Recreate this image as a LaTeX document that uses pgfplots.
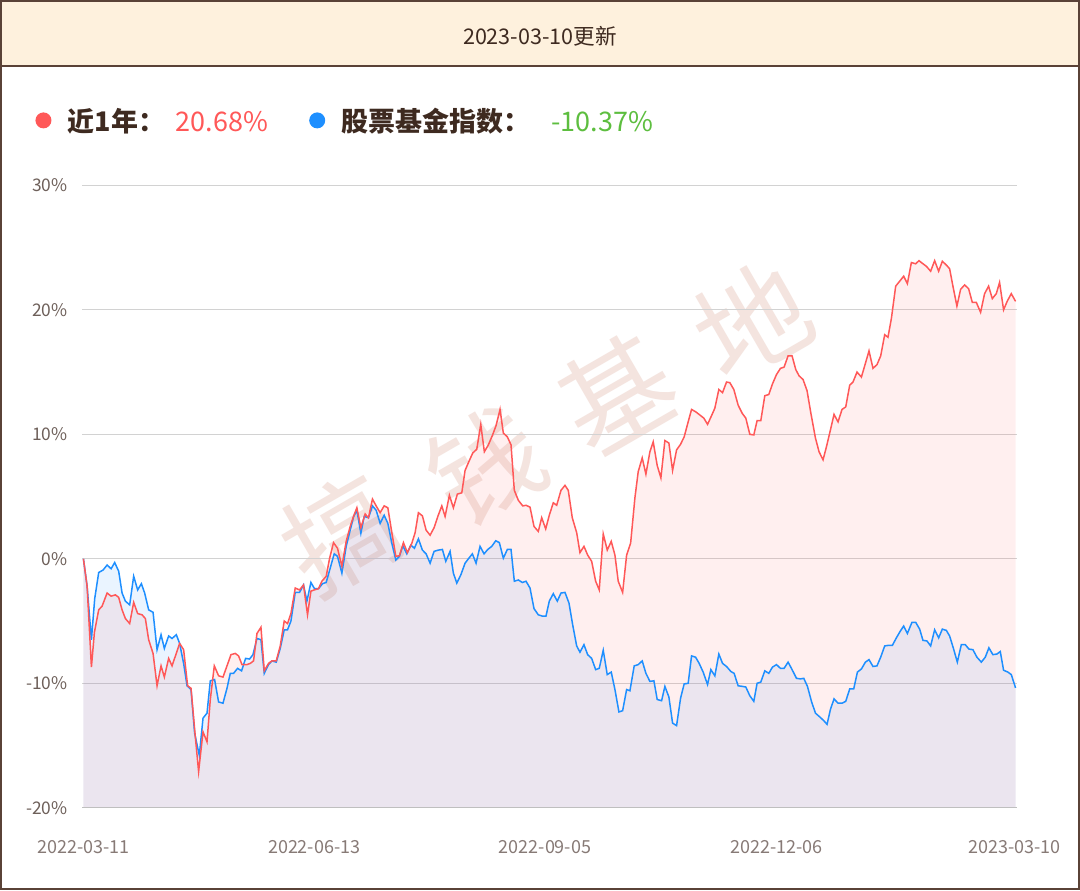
\documentclass[border=0pt]{standalone}
\usepackage{fontspec}
\setmainfont{Noto Sans CJK SC}
\usepackage{pgfplots}
\usepackage{pgfplotstable}
\pgfplotsset{compat=1.18}
\definecolor{frame}{RGB}{90,66,55}
\definecolor{cream}{RGB}{254,241,221}
\definecolor{txt}{RGB}{62,42,32}
\definecolor{tick}{RGB}{110,96,90}
\definecolor{xtick}{RGB}{135,122,118}
\definecolor{rline}{RGB}{255,88,88}
\definecolor{bline}{RGB}{30,143,255}
\definecolor{gtxt}{RGB}{93,190,63}
\definecolor{gridc}{RGB}{210,210,210}
\definecolor{wm}{RGB}{244,228,223}

\pgfplotstableread{
x y
83 0
86.7 -2.2
91 -8.7
94 -5.9
98.3 -4.1
101.7 -3.8
106.7 -2.75
110.7 -3.0
115 -2.9
118.3 -3.1
121.7 -4.1
125 -4.8
129.3 -5.2
133.3 -3.5
137.3 -4.4
141.7 -4.5
145 -4.8
148.3 -6.5
152.7 -7.6
156.7 -10.2
160.7 -8.6
164 -9.5
168.3 -8.0
171.7 -8.6
175.5 -7.7
179.3 -6.8
183.3 -7.3
187.3 -10.2
190.7 -10.4
195 -14.3
198.3 -17.1
202.7 -13.9
206.7 -14.7
210 -11.3
214 -8.6
218.3 -9.4
222.7 -9.5
226.7 -8.6
230.7 -7.7
235 -7.6
238.3 -7.8
241.7 -8.5
246.7 -8.5
250 -8.4
253.3 -8.2
256.7 -6.0
260.7 -5.5
264 -9.0
268.3 -8.4
271.7 -8.2
276 -8.2
280 -7.0
284 -5.0
287.3 -5.2
290.7 -4.4
295 -2.35
299.3 -2.5
303.3 -2.1
307.3 -4.5
310.7 -2.6
314 -2.5
318.3 -2.4
321.7 -1.8
326 -1.4
329.3 0.0
333.3 1.3
337.3 0.85
341.7 -0.6
346 1.4
350 2.6
353.3 3.4
356.7 4.1
360.7 2.5
365 3.6
368.3 3.3
372.3 4.8
376 4.25
380 3.7
384 4.25
387.7 4.1
391.7 2.1
395.7 0.2
399.3 0.25
403.3 1.3
407.3 0.5
411.7 1.25
415 2.1
418.3 3.7
422.3 3.45
426 2.3
430 1.9
434 2.5
437.7 3.4
441.7 4.25
445 3.4
449.3 5.1
453.3 4.1
457.3 5.2
461.7 5.3
465 7.1
469.3 7.9
472.7 8.5
476.7 8.8
480.7 10.8
484.3 8.6
488.3 9.15
492.3 9.9
496 10.7
500 12.0
503.3 10.1
507.3 9.8
511 9.15
514.3 5.5
518.3 4.7
522.7 4.25
526 4.3
530 4.15
534 2.6
538.3 2.2
541.7 3.3
545.7 2.4
549.3 3.5
553.3 4.5
556.7 4.3
561 5.5
565 5.9
568.3 5.5
572.3 3.3
576.7 2.1
580 0.5
584 1.0
587.7 0.3
591.7 -0.2
595.7 -1.8
599.3 -2.5
603.3 2.0
607.3 0.7
611.3 1.4
615 0.3
618.3 -1.8
622.7 -2.7
626.7 0.3
630.7 1.25
635 4.9
638.3 7.0
642.3 8.1
646 6.8
650 8.6
653.3 9.4
657.3 7.5
661 6.5
665 9.5
669 9.3
672.7 7.1
676.7 8.75
680.7 9.2
684.3 9.8
688.3 11.0
691.7 12.0
696 11.8
700 11.55
704 11.3
707.7 10.8
711.7 11.5
715 12.1
719 13.6
722.7 13.35
726.7 14.2
730 14.15
734 13.6
738.3 12.35
742.3 11.7
746 11.3
750 10.0
754 9.95
757.3 11.1
761 11.1
765 13.1
769 13.2
772.7 14.05
776.7 14.8
780.7 15.3
784.3 15.4
788.3 16.3
792.3 16.3
796 15.2
799.3 14.7
803.3 14.4
807.3 13.5
811 11.75
815.7 9.7
819.3 8.6
823.3 7.95
826.7 9.0
830.7 10.35
834.3 11.6
838.3 11.0
842.3 12.0
846 12.2
850 13.95
853.3 14.2
857.3 15.0
861.7 14.6
865.7 15.7
869.3 16.7
873.3 15.3
877.3 15.6
881 16.3
885 18.0
888.3 17.8
891.7 19.3
896 21.9
900 22.3
904 22.7
907.7 22.1
911.7 23.8
916 23.7
919.3 23.95
923.3 23.7
926.7 23.5
931 23.1
935 23.95
939 23.1
942.7 23.9
946.7 23.6
950 23.3
953.3 21.9
957.3 20.3
961 21.65
965 22.0
969 21.7
972.7 20.6
976.7 20.6
981 19.8
985 21.3
989 21.9
992.7 20.9
996.7 21.3
1000 22.2
1004 20.0
1007.7 20.7
1011.7 21.3
1016 20.68
}\redtab

\pgfplotstableread{
x y
83 0
86.7 -2.2
91 -6.5
94.3 -3.2
98.3 -1.1
102.7 -0.9
106.7 -0.5
110.7 -0.8
114.3 -0.3
118.3 -1.0
121.7 -2.75
125 -3.4
129.3 -3.7
133.3 -1.4
137.3 -2.5
141 -2.0
144.3 -2.75
148.3 -4.1
152.7 -4.3
156.7 -7.3
160.7 -6.1
164 -7.2
168.3 -6.2
171.7 -6.4
176 -6.1
179.3 -6.8
183.3 -8.4
186.7 -10.2
190.7 -10.5
194.3 -14.0
199 -15.8
202.7 -12.8
206.7 -12.4
210 -9.8
214.3 -9.7
218.3 -11.5
222.7 -11.6
226.7 -10.4
230 -9.2
233.3 -9.2
237.3 -8.8
241.3 -9.0
245.3 -8.0
249.3 -8.05
252.7 -7.7
256.7 -6.4
260.7 -6.5
264 -9.2
268.3 -8.5
271.7 -8.2
276 -8.3
280 -7.2
284 -5.7
287.3 -5.7
290.7 -5.0
295 -2.7
299.3 -2.7
303.3 -2.1
306.7 -3.4
310.7 -1.9
314.3 -2.4
318.3 -2.4
322.3 -2.0
326 -1.9
330 -0.75
334 0.4
337.3 0.2
341.7 -1.15
346 1.0
350 2.3
353.3 3.35
356.7 3.9
360.7 2.05
364 3.4
368.3 3.3
372.3 4.25
376 3.9
380 2.85
384 3.5
387.7 2.85
391.7 1.25
395.7 -0.1
399.3 0.2
402.7 1.05
406.7 0.4
410.7 1.1
414.3 0.85
418.3 1.6
422.3 0.7
426 0.4
430 -0.35
434 0.6
438.3 0.7
442.3 0.75
445.7 -0.2
450 0.6
453.3 -1.15
456.7 -1.95
460.7 -1.3
465 -0.35
468.3 0
472.3 0.4
476 -0.35
480 1.0
484 0.4
487.7 0.75
491.7 1.0
495.7 1.45
499.3 1.3
503.3 0.05
507.3 0.75
511 0.75
514.3 -1.8
518.3 -1.7
522.3 -1.9
526 -1.8
530 -2.35
534 -4.0
538.3 -4.5
542.3 -4.6
546 -4.6
549.3 -3.4
553.3 -2.8
557.3 -3.4
561 -2.75
565 -2.7
569 -3.55
572.7 -5.3
576.7 -7.0
580 -7.5
584 -6.9
587.7 -7.7
591.7 -8.0
595.7 -8.9
599.3 -8.8
603.3 -7.35
607.3 -9.3
611.3 -9.1
615 -10.5
619 -12.3
622.7 -12.2
626.7 -10.5
630 -10.6
634.3 -8.6
638.3 -8.5
642.3 -8.2
646 -9.2
650 -9.85
654 -9.8
657.3 -11.3
661.7 -11.4
665 -10.25
669 -11.1
672.7 -13.2
676.7 -13.4
680.7 -11.2
684.3 -10.05
688.3 -10.0
691.7 -7.8
695.7 -7.9
699.3 -8.4
703.3 -9.1
707.7 -10.1
711 -8.9
715 -9.4
719 -7.65
722.7 -8.4
726.7 -8.65
731 -9.05
734.3 -9.2
738.3 -10.2
742.7 -10.25
746 -10.3
750 -11.0
754 -11.45
757.3 -10.0
761 -9.9
765 -9.0
769 -9.2
772.7 -8.7
776.7 -8.5
780.7 -8.8
784.3 -8.8
788.3 -8.3
792.3 -8.9
796.7 -9.6
800.7 -9.65
804 -9.6
807.7 -10.25
811.7 -11.45
815.7 -12.4
820 -12.7
824 -13.0
827.3 -13.3
830.7 -12.1
834.3 -11.25
838.3 -11.6
842.3 -11.6
846 -11.45
850 -10.45
854 -10.45
857.7 -9.1
861.7 -8.85
865.7 -8.3
869.3 -8.1
873.3 -8.65
877.3 -8.6
881 -7.9
885 -7.0
889 -6.95
892.7 -6.95
896.7 -6.35
900.7 -5.8
904 -5.4
907.7 -6.0
912.3 -5.1
916 -5.1
920 -5.65
923.3 -6.55
927.3 -6.6
931 -7.0
935 -5.7
939 -6.35
942.7 -5.65
946.7 -5.75
950 -6.2
954 -7.25
957.7 -8.3
961.7 -6.9
965.7 -6.9
969.3 -7.25
973.3 -7.3
977.3 -7.9
981.7 -8.3
985.7 -7.9
989.3 -7.15
993.3 -7.7
997.3 -7.65
1000.7 -7.45
1004 -8.95
1008.3 -9.1
1011.7 -9.3
1016 -10.37
}\bluetab

\begin{document}
\begin{tikzpicture}
\begin{scope}[x=0.5pt,y=-0.5pt]
  \useasboundingbox (0,0) rectangle (1080,890);
  \fill[white] (0,0) rectangle (1080,890);
  \fill[cream] (1,1) rectangle (1079,66);
  \draw[frame, line width=1pt] (0,66) -- (1080,66);
  \node[text=txt, font=\fontsize{10.8}{12}\selectfont] at (540,36) {2023-03-10更新};
  % legend
  \fill[rline] (43,120) circle (8);
  \node[anchor=west, text=txt, font=\fontsize{13.5}{15}\selectfont\bfseries, inner sep=0] at (67,121) {近1年：};
  \node[anchor=west, text=rline, font=\fontsize{13.5}{15}\selectfont, inner sep=0] at (175,121) {20.68\%};
  \fill[bline] (317,120) circle (8);
  \node[anchor=west, text=txt, font=\fontsize{13.5}{15}\selectfont\bfseries, inner sep=0] at (341,121) {股票基金指数：};
  \node[anchor=west, text=gtxt, font=\fontsize{13.5}{15}\selectfont, inner sep=0] at (551,121) {-10.37\%};
  % watermark
  \foreach \ch/\px/\py in {搞/340/535, 钱/485/465, 基/617/393, 地/752/320}
    \node[text=wm, font=\fontsize{56}{60}\selectfont, rotate=30] at (\px,\py) {\ch};
\end{scope}
\begin{axis}[
  at={(41pt,-404pt)}, anchor=south west,
  scale only axis, width=467.5pt, height=311.5pt,
  xmin=82, xmax=1017, ymin=-20, ymax=30,
  axis line style={draw=none},
  tick style={draw=none},
  ytick={-20,-10,0,10,20,30},
  yticklabels={-20\%,-10\%,0\%,10\%,20\%,30\%},
  xtick={83,314,545,777,1015},
  xticklabels={2022-03-11,2022-06-13,2022-09-05,2022-12-06,2023-03-10},
  ymajorgrids=true,
  major grid style={draw=gridc, line width=0.6pt},
  yticklabel style={text=tick, font=\fontsize{8.7}{10}\selectfont, xshift=-4pt},
  xticklabel style={text=xtick, font=\fontsize{9}{10}\selectfont, yshift=-13pt},
  clip=false,
]
\addplot[fill=bline, fill opacity=0.09, draw=none, forget plot] table {\bluetab} -- (axis cs:1016,-20) -- (axis cs:83,-20) -- cycle;
\addplot[fill=rline, fill opacity=0.09, draw=none, forget plot] table {\redtab} -- (axis cs:1016,-20) -- (axis cs:83,-20) -- cycle;
\draw[color=black!25, line width=0.7pt] (axis cs:82,-20) -- (axis cs:1017,-20);
\addplot[bline, line width=0.75pt, mark=none] table {\bluetab};
\addplot[rline, line width=0.75pt, mark=none] table {\redtab};
\end{axis}
\begin{scope}[x=0.5pt,y=-0.5pt]
  \draw[frame, line width=1pt] (0.5,0.5) rectangle (1079.5,889.5);
\end{scope}
\end{tikzpicture}
\end{document}
